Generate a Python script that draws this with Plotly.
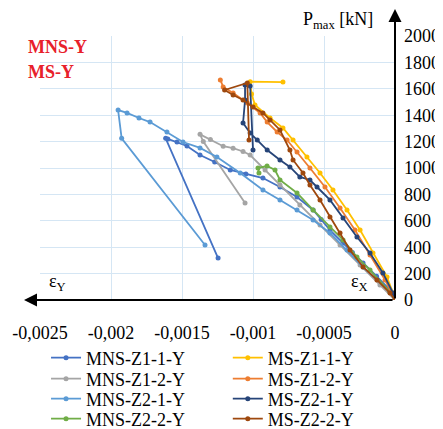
import plotly.graph_objects as go

# ---- data (strain eps, load P_max [kN]) ----
mns_z1_1_x = [0, -0.000035, -0.00013, -0.000225, -0.0003, -0.000366, -0.000458, -0.00052, -0.000577, -0.00069, -0.00081,
              -0.00093, -0.00105, -0.00116, -0.00127, -0.001373, -0.001465, -0.001535, -0.0016, -0.001615, -0.001246]
mns_z1_1_y = [0, 76, 180, 280, 360, 432, 530, 610, 682, 780, 856,
              924, 955, 985, 1045, 1098, 1167, 1197, 1220, 1225, 318]

mns_z1_2_x = [0, -0.000106, -0.000246, -0.000387, -0.000528, -0.00067, -0.00081, -0.000915, -0.00102, -0.00107,
              -0.00114, -0.00121, -0.0013, -0.001373, -0.00135, -0.001056]
mns_z1_2_y = [0, 114, 265, 417, 568, 720, 871, 985, 1098, 1125,
              1150, 1165, 1215, 1255, 1200, 735]

mns_z2_1_x = [0, -0.000035, -0.000225, -0.000338, -0.000458, -0.000577, -0.00069, -0.00081, -0.00093, -0.00109,
              -0.001254, -0.001373, -0.001493, -0.001606, -0.001725, -0.001803, -0.001887, -0.00195, -0.001925, -0.001338]
mns_z2_1_y = [0, 61, 250, 379, 508, 606, 682, 758, 833, 962,
              1083, 1152, 1197, 1273, 1348, 1379, 1417, 1439, 1225, 417]

mns_z2_2_x = [0, -0.000035, -0.000176, -0.000268, -0.000366, -0.000458, -0.000577, -0.00069, -0.00081, -0.000845,
              -0.000901, -0.000965, -0.000958]
mns_z2_2_y = [0, 61, 227, 326, 455, 553, 682, 811, 909, 985,
              1015, 1000, 962]

ms_z1_1_x = [0, -0.000014, -0.000056, -0.000155, -0.000246, -0.000338, -0.000437, -0.000528, -0.00062, -0.000718,
             -0.000789, -0.00088, -0.000986, -0.00101, -0.00102, -0.000789]
ms_z1_1_y = [0, 53, 174, 356, 530, 682, 833, 962, 1083, 1212,
             1303, 1379, 1477, 1560, 1654, 1651]

ms_z1_2_x = [0, -0.00007, -0.000176, -0.000282, -0.000387, -0.000493, -0.000599, -0.00069, -0.00076, -0.00083,
             -0.0009, -0.00095, -0.00104, -0.00114, -0.00121, -0.00123]
ms_z1_2_y = [0, 152, 341, 530, 697, 856, 1000, 1121, 1212, 1273,
             1348, 1417, 1492, 1568, 1614, 1667]

ms_z2_1_x = [0, -0.000014, -0.000085, -0.000176, -0.000268, -0.000366, -0.000458, -0.000549, -0.000599, -0.00067,
             -0.00074, -0.00081, -0.0009, -0.00097, -0.00102, -0.00107, -0.001056, -0.001056, -0.00102, -0.001]
ms_z2_1_y = [0, 53, 205, 356, 477, 621, 758, 856, 909, 932,
             1008, 1061, 1136, 1212, 1265, 1341, 1515, 1629, 1621, 1136]

ms_z2_2_x = [0, -0.000035, -0.000127, -0.000225, -0.000317, -0.000387, -0.000458, -0.000528, -0.000599, -0.000648,
             -0.000718, -0.00074, -0.00081, -0.00088, -0.00093, -0.001, -0.00107, -0.00114, -0.0012, -0.00104, -0.001028]
ms_z2_2_y = [0, 53, 152, 250, 379, 508, 629, 758, 871, 962,
             1061, 1136, 1288, 1364, 1417, 1462, 1515, 1553, 1591, 1644, 1212]

names = ["MNS-Z1-1-Y", "MNS-Z1-2-Y", "MNS-Z2-1-Y", "MNS-Z2-2-Y",
         "MS-Z1-1-Y", "MS-Z1-2-Y", "MS-Z2-1-Y", "MS-Z2-2-Y"]
colors = ["#4472C4", "#A5A5A5", "#5B9BD5", "#70AD47",
          "#FFC000", "#ED7D31", "#264478", "#9E480E"]
xs = [mns_z1_1_x, mns_z1_2_x, mns_z2_1_x, mns_z2_2_x, ms_z1_1_x, ms_z1_2_x, ms_z2_1_x, ms_z2_2_x]
ys = [mns_z1_1_y, mns_z1_2_y, mns_z2_1_y, mns_z2_2_y, ms_z1_1_y, ms_z1_2_y, ms_z2_1_y, ms_z2_2_y]

x_ticks = [-0.0025, -0.002, -0.0015, -0.001, -0.0005, 0]
x_tick_labels = ["-0,0025", "-0,002", "-0,0015", "-0,001", "-0,0005", "0"]
y_ticks = list(range(0, 2001, 200))

FONT = "Liberation Serif"

# page has an 8px body margin; figure sized so that it fits the 443x429 window
W, H = 435, 421
ML, MT = 32, 28
PW, PH = 355, 264

fig = go.Figure()
legend_rows_px = [358, 379, 399, 419]  # page-y of legend rows
layout_legends = {}
for i, (n, c, x, y) in enumerate(zip(names, colors, xs, ys)):
    col = 0 if i < 4 else 1
    row = i % 4
    lname = "legend" if i == 0 else f"legend{i + 1}"
    fig.add_trace(go.Scatter(
        x=x, y=y, name=n, mode="lines+markers",
        line=dict(color=c, width=1.8),
        marker=dict(color=c, size=5),
        legend=lname, showlegend=True,
    ))
    py = legend_rows_px[row]
    layout_legends[lname] = dict(
        x=0.017 if col == 0 else 0.529, y=(300 - py) / PH, xanchor="left", yanchor="middle",
        orientation="v", font=dict(family=FONT, size=18), bgcolor="rgba(0,0,0,0)",
        itemwidth=30, visible=True)

fig.update_layout(
    width=W, height=H, showlegend=True,
    margin=dict(l=ML, r=W - ML - PW, t=MT, b=H - MT - PH, autoexpand=False),
    plot_bgcolor="white", paper_bgcolor="white",
    font=dict(family=FONT, size=18, color="black"),
    xaxis=dict(range=[-0.0025, 0], tickvals=x_ticks, ticktext=x_tick_labels,
               showgrid=True, gridcolor="#D5E6F4", gridwidth=1, zeroline=False,
               showline=False, ticks="", ticklabelstandoff=20,
               tickfont=dict(family=FONT, size=18)),
    yaxis=dict(range=[0, 2000], tickvals=y_ticks, side="right",
               showgrid=True, gridcolor="#D5E6F4", gridwidth=1, zeroline=False,
               showline=False, ticks="", ticklabelstandoff=8,
               tickfont=dict(family=FONT, size=18)),
    **layout_legends,
)

# axis arrows
fig.add_annotation(x=-0.045, y=0, xref="paper", yref="y", ax=370, ay=0,
                   showarrow=True, arrowhead=2, arrowsize=1.3, arrowwidth=2,
                   arrowcolor="black", text="", standoff=0)
fig.add_annotation(x=1.0, y=1.11, xref="paper", yref="paper", ax=0, ay=293,
                   showarrow=True, arrowhead=2, arrowsize=1.3, arrowwidth=2,
                   arrowcolor="black", text="", standoff=0)

# texts
fig.add_annotation(x=0.945, y=1.058, xref="paper", yref="paper", xanchor="right", yanchor="middle",
                   text="P<sub>max</sub> [kN]", showarrow=False, font=dict(family=FONT, size=18))
fig.add_annotation(x=0.02, y=0.015, xref="paper", yref="paper", xanchor="left", yanchor="bottom",
                   text="ε<sub>Y</sub>", showarrow=False, font=dict(family=FONT, size=18))
fig.add_annotation(x=0.93, y=0.015, xref="paper", yref="paper", xanchor="right", yanchor="bottom",
                   text="ε<sub>X</sub>", showarrow=False, font=dict(family=FONT, size=18))
fig.add_annotation(x=-0.04, y=0.96, xref="paper", yref="paper", xanchor="left", yanchor="middle",
                   text="<b>MNS-Y</b>", showarrow=False, font=dict(family=FONT, size=18, color="#E8202A"))
fig.add_annotation(x=-0.04, y=0.865, xref="paper", yref="paper", xanchor="left", yanchor="middle",
                   text="<b>MS-Y</b>", showarrow=False, font=dict(family=FONT, size=18, color="#E8202A"))

fig.write_html("out.html")
